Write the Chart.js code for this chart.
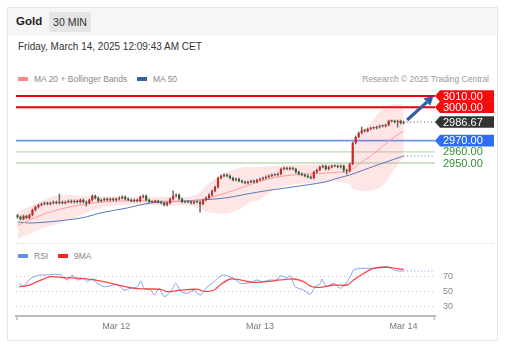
<!DOCTYPE html>
<html><head><meta charset="utf-8">
<script src="https://cdn.jsdelivr.net/npm/chart.js@4"></script>
<style>
body{margin:0;background:#fff;font-family:"Liberation Sans",Arial,sans-serif;width:507px;height:352px;overflow:hidden;position:relative;}
#card{position:absolute;left:7px;top:7px;width:489px;height:332px;border:1px solid #e6e6e6;}
#hdr{position:absolute;left:8px;top:8px;width:489px;height:28px;background:#f6f6f6;}
.t{position:absolute;white-space:nowrap;}
#gold{left:16px;top:15px;font-weight:bold;font-size:11.5px;color:#222;}
#badge{left:49px;top:12px;width:42px;height:20px;line-height:20px;text-align:center;background:#e5e5e5;font-size:10.5px;color:#333;border-radius:2px;}
#date{left:18px;top:41px;font-size:10px;color:#333;}
.sw{position:absolute;width:10px;height:4px;}
.lg{font-size:8.5px;color:#888;}
#sep{position:absolute;left:16px;top:243px;width:478px;border-top:1px dotted #ddd;}
canvas{position:absolute;left:0;}
</style></head><body>
<div id="card"></div><div id="hdr"></div>
<div class="t" id="gold">Gold</div>
<div class="t" id="badge">30 MIN</div>
<div class="t" id="date">Friday, March 14, 2025 12:09:43 AM CET</div>
<div class="sw" style="left:18px;top:77px;background:#f88;"></div>
<div class="t lg" style="left:34px;top:74px;">MA 20 + Bollinger Bands</div>
<div class="sw" style="left:137px;top:77px;background:#3b5ea8;"></div>
<div class="t lg" style="left:153px;top:74px;">MA 50</div>
<div class="t lg" style="right:18px;top:74px;color:#999;">Research © 2025 Trading Central</div>
<div id="sep"></div>
<div class="sw" style="left:18px;top:254px;background:#6b8ee6;"></div>
<div class="t lg" style="left:34px;top:251px;">RSI</div>
<div class="sw" style="left:58px;top:254px;background:#f22;"></div>
<div class="t lg" style="left:74px;top:251px;">9MA</div>
<canvas id="pc" width="507" height="160" style="top:85px;width:507px;height:160px;"></canvas>
<canvas id="rc" width="507" height="107" style="top:245px;width:507px;height:107px;"></canvas>
<script>
// ---------- DATA ----------
const tickIdx = [33, 81, 129];
const tickLabels = ['Mar 12', 'Mar 13', 'Mar 14'];

const openVals = [2903.0,2901.7,2899.9,2902.5,2900.8,2903.4,2907.9,2910.6,2912.4,2913.3,
2914.2,2913.3,2914.2,2915.1,2914.2,2915.1,2914.2,2915.1,2916.0,2915.1,
2916.0,2915.1,2916.9,2915.1,2914.2,2916.9,2920.5,2918.7,2916.0,2916.9,
2917.8,2916.9,2917.8,2916.9,2917.8,2918.7,2919.6,2917.8,2916.9,2916.0,
2916.9,2916.0,2919.6,2920.5,2916.9,2915.1,2915.1,2916.0,2915.1,2914.2,
2912.4,2914.2,2917.8,2920.5,2921.4,2917.8,2915.1,2915.1,2915.1,2914.2,
2915.1,2915.1,2913.3,2916.9,2918.7,2921.4,2924.9,2928.5,2936.6,2938.4,
2939.3,2938.4,2936.6,2934.8,2935.7,2933.9,2933.0,2932.1,2933.0,2933.9,
2933.0,2934.8,2935.7,2936.6,2937.5,2938.4,2939.3,2939.3,2940.2,2944.6,
2945.5,2944.6,2945.5,2944.6,2941.9,2940.2,2939.3,2938.4,2937.5,2936.6,
2941.9,2943.7,2946.4,2947.3,2944.6,2946.4,2947.3,2947.3,2946.4,2947.3,
2943.7,2942.8,2949.1,2967.9,2973.3,2976.9,2979.5,2978.6,2980.4,2981.3,
2981.3,2982.2,2983.1,2983.1,2984.0,2987.6,2987.6,2986.7,2987.6,2985.8];
const closeVals = [2901.7,2899.9,2902.5,2900.8,2903.4,2907.9,2910.6,2912.4,2913.3,2914.2,
2913.3,2914.2,2915.1,2914.2,2915.1,2914.2,2915.1,2916.0,2915.1,2916.0,
2915.1,2916.9,2915.1,2914.2,2916.9,2920.5,2918.7,2916.0,2916.9,2917.8,
2916.9,2917.8,2916.9,2917.8,2918.7,2919.6,2917.8,2916.9,2916.0,2916.9,
2916.0,2919.6,2920.5,2916.9,2915.1,2915.1,2916.0,2915.1,2914.2,2912.4,
2914.2,2917.8,2920.5,2921.4,2917.8,2915.1,2915.1,2915.1,2914.2,2915.1,
2915.1,2913.3,2916.9,2918.7,2921.4,2924.9,2928.5,2936.6,2938.4,2939.3,
2938.4,2936.6,2934.8,2935.7,2933.9,2933.0,2932.1,2933.0,2933.9,2933.0,
2934.8,2935.7,2936.6,2937.5,2938.4,2939.3,2939.3,2940.2,2944.6,2945.5,
2944.6,2945.5,2944.6,2941.9,2940.2,2939.3,2938.4,2937.5,2936.6,2941.9,
2943.7,2946.4,2947.3,2944.6,2946.4,2947.3,2947.3,2946.4,2947.3,2943.7,
2942.8,2949.1,2967.9,2973.3,2976.9,2979.5,2978.6,2980.4,2981.3,2981.3,
2982.2,2983.1,2983.1,2984.0,2987.6,2987.6,2986.7,2987.6,2985.8,2986.67];
const highVals = [2904.0,2902.6,2903.4,2903.3,2904.3,2908.8,2911.5,2913.3,2914.2,2915.1,
2915.1,2915.1,2916.0,2916.0,2922.3,2916.0,2916.0,2916.9,2916.9,2916.9,
2916.9,2917.8,2917.8,2916.0,2917.8,2921.4,2921.4,2919.6,2917.8,2918.7,
2918.7,2918.7,2918.7,2918.7,2919.6,2920.5,2920.5,2918.7,2917.8,2917.8,
2917.8,2920.5,2921.4,2921.4,2917.8,2916.0,2916.9,2916.9,2916.0,2915.1,
2915.1,2918.7,2925.0,2922.3,2922.3,2918.7,2916.0,2916.0,2916.0,2916.0,
2916.0,2916.0,2917.8,2919.6,2922.3,2925.8,2929.4,2937.5,2939.3,2940.2,
2940.2,2939.3,2937.5,2936.6,2936.6,2934.8,2933.9,2933.9,2934.8,2934.8,
2935.7,2936.6,2937.5,2938.4,2939.3,2940.2,2940.2,2941.1,2945.5,2946.4,
2946.4,2946.4,2946.4,2945.5,2942.8,2941.1,2940.2,2939.3,2938.4,2942.8,
2944.6,2947.3,2948.2,2948.2,2947.3,2948.2,2948.2,2948.2,2948.2,2948.2,
2944.6,2950.0,2968.8,2974.2,2977.8,2982.2,2980.4,2981.3,2982.2,2982.2,
2983.1,2984.0,2984.0,2984.9,2988.5,2988.5,2988.5,2988.5,2988.5,2987.6];
const lowVals = [2900.5,2899.0,2899.0,2899.9,2899.9,2902.5,2907.0,2909.7,2911.5,2912.4,
2912.4,2912.4,2913.3,2913.3,2913.3,2913.3,2913.3,2914.2,2914.2,2914.2,
2914.2,2914.2,2914.2,2911.5,2913.3,2916.0,2917.8,2915.1,2915.1,2916.0,
2916.0,2916.0,2916.0,2916.0,2916.9,2917.8,2916.9,2916.0,2915.1,2915.1,
2915.1,2915.1,2918.7,2916.0,2914.2,2914.2,2914.2,2914.2,2913.3,2911.5,
2911.5,2913.3,2916.9,2919.6,2916.9,2914.2,2914.2,2914.2,2913.3,2913.3,
2914.2,2906.0,2912.4,2916.0,2917.8,2920.5,2924.0,2927.6,2935.7,2937.5,
2937.5,2935.7,2933.9,2933.9,2933.0,2932.1,2931.2,2931.2,2932.1,2932.1,
2932.1,2933.9,2934.8,2935.7,2936.6,2937.5,2938.4,2938.4,2939.3,2943.7,
2943.7,2943.7,2943.7,2941.0,2939.3,2938.4,2937.5,2936.6,2935.7,2935.7,
2941.0,2942.8,2945.5,2943.7,2943.7,2945.5,2946.4,2945.5,2945.5,2941.9,
2940.0,2941.9,2948.2,2967.0,2972.4,2976.0,2977.7,2977.7,2979.5,2980.4,
2980.4,2981.3,2982.2,2982.2,2983.1,2986.7,2985.8,2982.2,2984.9,2984.9];

const ma20X = [0, 8, 14, 21, 28, 38, 50, 59, 64, 70, 75, 81, 86, 92, 98, 103, 108, 111, 115, 118, 122, 126, 129];
const ma20Y = [2894, 2903.4, 2908.5, 2912.5, 2915, 2916.2, 2915.8, 2916, 2918.8, 2923.5, 2928, 2933.5, 2937, 2939.3, 2940.2, 2941, 2941.9, 2943, 2951, 2956, 2965, 2973.5, 2978.6];
const bandX = [0, 8, 14, 21, 28, 38, 50, 59, 64, 70, 75, 78, 81, 86, 92, 98, 103, 106, 111, 112, 115, 118, 122, 126, 129];
const bandUp = [2906, 2916, 2921.4, 2920.5, 2920, 2919.8, 2919.8, 2920.8, 2932, 2942, 2946, 2946.2, 2946.4, 2947.3, 2948.2, 2948.6, 2949.1, 2950, 2950, 2962, 2976, 2986, 2998, 3002.5, 3002];
const bandLow = [2882, 2891, 2896, 2903, 2910, 2912.6, 2911.8, 2911.2, 2905.6, 2905, 2910, 2915, 2917, 2926.7, 2930.4, 2931.8, 2933, 2933.2, 2931, 2927, 2925, 2925, 2930, 2944.5, 2955.4];
const ma50X = [0, 5, 16.6, 23, 27.6, 36.6, 44.3, 50, 61, 69.4, 80.4, 91.8, 102.8, 106, 111, 115.6, 122.2, 129];
const ma50Y = [2897.2, 2896.3, 2899.0, 2901.7, 2905.2, 2909.7, 2914.2, 2915.1, 2916.9, 2918.7, 2924.0, 2928.5, 2933.0, 2935.7, 2939.3, 2943.7, 2950.0, 2956.3];

const levelVals = [3010, 3000, 2970, 2960, 2950];
const lastPrice = 2986.67;
const arrowFrom = [130.2, 2988.5];
const arrowTo = [139, 3010];

const rsiX = [0.5,2.2,3.8,5.5,7.8,10,12.2,14.4,16.7,18.3,20,22.2,23.3,25,26.7,28.9,31.2,33.4,35.6,37.9,40.1,41.2,42.3,44.5,45.7,47.3,49,51.2,52.9,54.6,56.8,59,60.1,61.3,62.9,65.7,67.4,69.1,72.2,74.4,77.8,80,81.7,84.4,86.7,87.8,90,91.1,92.8,95.6,97.8,99.5,101.2,101.7,103.2,105.6,107.9,109.5,111.2,112.3,114.5,117.9,121.2,124,125.7,127.4,129];
const rsiY = [60.3,55.7,64.7,69.1,71.3,71.3,72.2,71.3,64.7,71.3,64.7,66.9,62.4,66,60.3,55.7,57.1,58.9,51.3,53.6,55.7,63.3,53.6,51.3,44.7,53.6,42.4,49.1,60.3,49.1,46.9,51.3,46.9,44.7,53.6,62.4,69.1,71.3,66.9,60.3,61.1,64.7,62.4,64.7,64.7,70.4,67.8,70.4,55.7,51.3,45.6,55.7,60.3,66,55.7,60.3,53.6,58.9,69.1,78,80.2,80.2,81.6,82.4,78,76.7,76.7];
const rsiMaX = [0.5,3.3,6.6,11.1,15.6,21.1,25.6,30,34.5,39,43.4,47.9,50.1,54.6,60.1,62.9,65.7,67.7,71.1,74.4,78.9,83.3,87.8,92.2,95.6,98.3,101.2,105.6,110.1,112.3,115.7,119,123.5,128,129];
const rsiMaY = [55.7,57.1,62.4,69.1,67.8,66.9,64.7,61.6,57.1,53.6,52.7,52.2,49.1,51.3,52.2,49.1,51.3,58,66,64.7,61.6,62.4,64.7,66,62.4,55.7,54.9,58,58,64.7,73.6,80.2,81.6,79.3,78.9];
const rsiLevels = [30, 50, 70];

// ---------- BUILD ----------
const XMIN = -0.5, XMAX = 139.5;
const pts = (xs, ys) => xs.map((x, i) => ({x, y: ys[i]}));
const idx = closeVals.map((_, i) => i);
const lastI = idx[idx.length - 1];
const upC = '#d9231f', dnC = '#2a6b2c', djC = '#555';
const bodyColors = idx.map(i => closeVals[i] > openVals[i] ? upC : (closeVals[i] < openVals[i] ? dnC : djC));
const flat = (v) => [{x: XMIN, y: v}, {x: XMAX, y: v}];
const levelStyle = [
  {c: '#e5000a', w: 2}, {c: '#e5000a', w: 2}, {c: '#6d95ee', w: 1.6}, {c: '#bedcb9', w: 1.3}, {c: '#bedcb9', w: 1.3}
];

const pricePlugin = {
  id: 'priceDeco',
  afterDatasetsDraw(chart) {
    const {ctx, chartArea: a, scales: {x, y}} = chart;
    ctx.save();
    const x1 = x.getPixelForValue(arrowFrom[0]), y1 = y.getPixelForValue(arrowFrom[1]);
    const x2 = x.getPixelForValue(arrowTo[0]), y2 = y.getPixelForValue(arrowTo[1]);
    const ang = Math.atan2(y2 - y1, x2 - x1), hl = 9, hw = 5;
    const bx = x2 - hl * Math.cos(ang), by = y2 - hl * Math.sin(ang);
    ctx.strokeStyle = '#2d5fa6'; ctx.lineWidth = 3.2; ctx.lineCap = 'butt';
    ctx.beginPath(); ctx.moveTo(x1, y1); ctx.lineTo(bx, by); ctx.stroke();
    ctx.fillStyle = '#2d5fa6';
    ctx.beginPath(); ctx.moveTo(x2, y2);
    ctx.lineTo(bx + hw * Math.sin(ang), by - hw * Math.cos(ang));
    ctx.lineTo(bx - hw * Math.sin(ang), by + hw * Math.cos(ang));
    ctx.closePath(); ctx.fill();
    const tags = [
      {v: levelVals[0], bg: '#f40b0b', fg: '#fff'},
      {v: levelVals[1], bg: '#f40b0b', fg: '#fff'},
      {v: lastPrice, bg: '#333333', fg: '#fff'},
      {v: levelVals[2], bg: '#2f6ef2', fg: '#fff'},
      {v: levelVals[3], bg: null, fg: '#2e9130'},
      {v: levelVals[4], bg: null, fg: '#2e9130'}
    ];
    const x0 = a.right, xe = 494, h = 11.6;
    ctx.font = '11px "Liberation Sans", Arial, sans-serif';
    ctx.textBaseline = 'middle'; ctx.textAlign = 'left';
    tags.forEach(t => {
      const yc = y.getPixelForValue(t.v);
      if (t.bg) {
        ctx.fillStyle = t.bg;
        ctx.beginPath();
        ctx.moveTo(x0, yc); ctx.lineTo(x0 + 5, yc - h / 2); ctx.lineTo(xe, yc - h / 2);
        ctx.lineTo(xe, yc + h / 2); ctx.lineTo(x0 + 5, yc + h / 2); ctx.closePath(); ctx.fill();
      }
      ctx.fillStyle = t.fg;
      ctx.fillText(t.v.toFixed(2), 443, yc + 0.5);
    });
    ctx.restore();
  }
};

const priceDatasets = [
  {type: 'bar', label: 'body', data: idx.map(i => ({x: i, y: [openVals[i], closeVals[i]]})),
   backgroundColor: bodyColors, grouped: false, barPercentage: 0.72, categoryPercentage: 1, minBarLength: 1, order: 0},
  {type: 'bar', label: 'wick', data: idx.map(i => ({x: i, y: [lowVals[i], highVals[i]]})),
   backgroundColor: '#666', grouped: false, barThickness: 0.8, order: 1},
  {type: 'line', data: pts(ma20X, ma20Y), borderColor: '#ff9c9c', borderWidth: 1, pointRadius: 0, tension: 0.35, order: 2},
  {type: 'line', data: pts(ma50X, ma50Y), borderColor: '#5a79ba', borderWidth: 1, pointRadius: 0, tension: 0.35, order: 2},
  {type: 'line', data: [{x: lastI, y: ma50Y[ma50Y.length - 1]}, {x: XMAX, y: ma50Y[ma50Y.length - 1]}], borderColor: '#5a79ba', borderWidth: 1, borderDash: [1, 2.5], pointRadius: 0, order: 2},
  {type: 'line', data: [{x: lastI + 1, y: lastPrice}, {x: XMAX, y: lastPrice}], borderColor: '#555', borderWidth: 1, borderDash: [1, 2.5], pointRadius: 0, order: 2},
  {type: 'line', data: pts(bandX, bandUp), borderWidth: 0, borderColor: 'rgba(0,0,0,0)', pointRadius: 0, tension: 0.4, fill: '+1', backgroundColor: 'rgba(250,60,60,0.13)', order: 3},
  {type: 'line', data: pts(bandX, bandLow), borderWidth: 0, borderColor: 'rgba(0,0,0,0)', pointRadius: 0, tension: 0.4, order: 3}
].concat(levelVals.map((v, k) => ({type: 'line', data: flat(v), borderColor: levelStyle[k].c, borderWidth: levelStyle[k].w, pointRadius: 0, order: 4})));

new Chart(document.getElementById('pc'), {
  type: 'bar',
  data: {datasets: priceDatasets},
  options: {
    responsive: false, animation: false, events: [],
    layout: {padding: {left: 16, right: 72, top: 3, bottom: 5}},
    plugins: {legend: {display: false}, tooltip: {enabled: false}},
    scales: {
      x: {type: 'linear', min: XMIN, max: XMAX, offset: false, display: false},
      y: {type: 'linear', min: 2881.05, max: 3017.16, display: false}
    }
  },
  plugins: [pricePlugin]
});

const rsiPlugin = {
  id: 'rsiDeco',
  afterDraw(chart) {
    const {ctx, chartArea: a, scales: {y}} = chart;
    ctx.save(); ctx.strokeStyle = '#bbb'; ctx.lineWidth = 1.5;
    ctx.beginPath();
    ctx.moveTo(a.left + 0.75, a.bottom); ctx.lineTo(a.left + 0.75, a.bottom + 4);
    ctx.moveTo(a.right - 0.75, a.bottom); ctx.lineTo(a.right - 0.75, a.bottom + 4);
    ctx.stroke();
    ctx.fillStyle = '#888'; ctx.font = '9px "Liberation Sans", Arial, sans-serif';
    ctx.textBaseline = 'middle'; ctx.textAlign = 'left';
    rsiLevels.forEach(v => ctx.fillText(String(v), a.right + 8, y.getPixelForValue(v) + 0.5));
    ctx.restore();
  }
};

new Chart(document.getElementById('rc'), {
  type: 'line',
  data: {datasets: [
    {data: pts(rsiMaX, rsiMaY), borderColor: 'rgba(255,40,40,0.85)', borderWidth: 1.3, pointRadius: 0, tension: 0.35},
    {data: pts(rsiX, rsiY), borderColor: 'rgba(110,145,230,0.85)', borderWidth: 1, pointRadius: 0, tension: 0.2},
    {data: [{x: lastI, y: rsiY[rsiY.length - 1]}, {x: XMAX, y: rsiY[rsiY.length - 1]}], borderColor: '#7d9be6', borderWidth: 1, borderDash: [1, 2.5], pointRadius: 0}
  ]},
  options: {
    responsive: false, animation: false, events: [],
    layout: {padding: {left: 16, right: 0, top: 5, bottom: 0}},
    plugins: {legend: {display: false}, tooltip: {enabled: false}},
    scales: {
      x: {type: 'linear', min: XMIN, max: XMAX, offset: false,
          afterBuildTicks: s => { s.ticks = tickIdx.map(v => ({value: v})); },
          afterFit: s => { s.height = 36; },
          grid: {display: false, drawTicks: false},
          border: {display: true, color: '#bbb', width: 2},
          ticks: {autoSkip: false, maxRotation: 0, padding: 5, color: '#777', font: {size: 9, family: '"Liberation Sans", Arial'},
                  callback: v => { const k = tickIdx.indexOf(v); return k >= 0 ? tickLabels[k] : ''; }}},
      y: {type: 'linear', position: 'right', min: 16.67, max: 104.67,
          afterBuildTicks: s => { s.ticks = rsiLevels.map(v => ({value: v})); },
          afterFit: s => { s.width = 72; },
          grid: {color: '#c8c8c8', lineWidth: 1, drawTicks: false},
          border: {display: false, dash: [1, 3]},
          ticks: {display: false}}
    }
  },
  plugins: [rsiPlugin]
});
</script>
</body></html>
